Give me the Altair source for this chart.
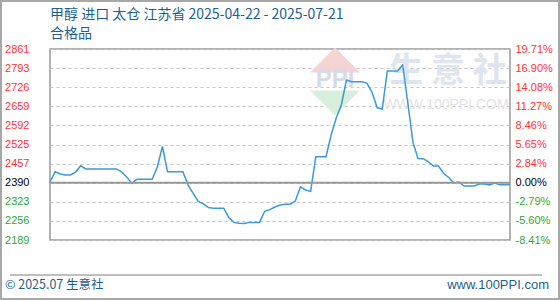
import altair as alt
import pandas as pd

# ---------------- data ----------------
x_labels = ["04/22", "04/30", "05/09", "05/18", "05/27", "06/05",
            "06/14", "06/23", "07/02", "07/11", "07/20"]
left_labels = ["2189", "2256", "2323", "2390", "2457", "2525",
               "2592", "2659", "2726", "2793", "2861"]
right_labels = ["-8.41%", "-5.60%", "-2.79%", "0.00%", "2.84%", "5.65%",
                "8.46%", "11.27%", "14.08%", "16.90%", "19.71%"]
prices = [2393, 2429, 2421, 2418, 2418, 2428, 2450, 2439, 2439, 2439,
          2439, 2439, 2439, 2439, 2429, 2411, 2388, 2403, 2403, 2403,
          2403, 2446, 2518, 2429, 2429, 2429, 2429, 2383, 2353, 2325,
          2316, 2303, 2301, 2301, 2301, 2267, 2251, 2248, 2247, 2251,
          2251, 2251, 2290, 2296, 2305, 2312, 2315, 2315, 2326, 2376,
          2365, 2360, 2482, 2482, 2482, 2558, 2618, 2664, 2752, 2746,
          2746, 2746, 2741, 2709, 2655, 2649, 2784, 2784, 2784, 2805,
          2672, 2534, 2476, 2475, 2465, 2449, 2449, 2424, 2409, 2390,
          2393, 2379, 2379, 2379, 2386, 2386, 2383, 2389, 2383, 2383,
          2383]

y_min, y_max = 2189, 2861
n_ticks = len(left_labels)
step = (y_max - y_min) / (n_ticks - 1)
tick_vals = [y_min + k * step for k in range(n_ticks)]
base_val = tick_vals[3]
x_ticks = [k * 9 for k in range(len(x_labels))]

df = pd.DataFrame({"i": list(range(len(prices))), "price": prices})
base_df = pd.DataFrame({"v": [base_val]})

W, H = 460, 191
FONT = "Liberation Sans"
CJK = "Noto Sans CJK SC"
BLUE_TXT = "#1d5f8f"

yscale = alt.Scale(domain=[y_min, y_max], nice=False, zero=False)
xscale = alt.Scale(domain=[0, 90], nice=False, zero=False)

left_expr = "[" + ",".join(f"'{s}'" for s in left_labels) + "][round((datum.value-%g)/%g)]" % (y_min, step)
right_expr = "[" + ",".join(f"'{s}'" for s in right_labels) + "][round((datum.value-%g)/%g)]" % (y_min, step)
x_expr = "[" + ",".join(f"'{s}'" for s in x_labels) + "][round(datum.value/9)]"
idx_expr = "round((datum.value-%g)/%g)" % (y_min, step)

label_color = {
    "condition": [
        {"test": idx_expr + " > 3", "value": "#ff3333"},
        {"test": idx_expr + " < 3", "value": "#33a833"},
    ],
    "value": "#000000",
}

# ---------- watermark ----------
wm_text = alt.Chart(pd.DataFrame({"t": ["生 意 社"]})).mark_text(
    font=CJK, fontSize=34, fontWeight="bold", color="#dfe5ef", align="center", baseline="middle"
).encode(x=alt.value(398), y=alt.value(23), text="t:N")
wm_url = alt.Chart(pd.DataFrame({"t": ["WWW.100PPI.COM"]})).mark_text(
    font=FONT, fontSize=14, color="#e4e4e4", align="center", baseline="middle"
).encode(x=alt.value(396), y=alt.value(56), text="t:N")
wm_ppi = alt.Chart(pd.DataFrame({"t": ["PPI"]})).mark_text(
    font=FONT, fontSize=24, fontWeight="bold", color="#d3dcec", align="center", baseline="middle"
).encode(x=alt.value(285), y=alt.value(31), text="t:N")
wm_red = alt.Chart(pd.DataFrame({"a": [1]})).mark_point(
    shape="M-1,0.5L0,-0.5L1,0.5Z", filled=True, color="#f6d3d3", opacity=1, size=2500
).encode(x=alt.value(285), y=alt.value(11))
wm_green = alt.Chart(pd.DataFrame({"a": [1]})).mark_point(
    shape="M-1,-0.5L1,-0.5L0,0.5Z", filled=True, color="#d8efdc", opacity=1, size=2500
).encode(x=alt.value(285), y=alt.value(54))

# ---------- main line with left axis & grid ----------
line = alt.Chart(df).mark_line(color="#3a9ad9", strokeWidth=1.5).encode(
    x=alt.X("i:Q", scale=xscale, title=None,
            axis=alt.Axis(values=x_ticks, labelExpr=x_expr, grid=True,
                          gridColor="#c8c8c8", gridDash=[3, 3], ticks=False,
                          domain=False, labelColor=BLUE_TXT, labelFont=FONT,
                          labelFontSize=11, labelPadding=11, labelFlush=False)),
    y=alt.Y("price:Q", scale=yscale, title=None,
            axis=alt.Axis(orient="left", values=tick_vals, labelExpr=left_expr,
                          grid=True, gridColor="#c8c8c8", gridDash=[3, 3],
                          ticks=False, domain=False, labelColor=label_color,
                          labelFont=FONT, labelFontSize=11, labelPadding=21)),
)

# right axis (percent)
right = alt.Chart(df).mark_line(opacity=0).encode(
    x=alt.X("i:Q", scale=xscale, axis=None),
    y=alt.Y("price:Q", scale=yscale, title=None,
            axis=alt.Axis(orient="right", values=tick_vals, labelExpr=right_expr,
                          grid=False, ticks=False, domain=False,
                          labelColor=label_color, labelFont=FONT,
                          labelFontSize=11, labelPadding=5)),
)

base_rule = alt.Chart(base_df).mark_rule(color="#999999", strokeWidth=2).encode(
    y=alt.Y("v:Q", scale=yscale, axis=None)
)

# ---------- titles / footer ----------
title1 = alt.Chart(pd.DataFrame({"t": ["甲醇 进口 太仓 江苏省 2025-04-22 - 2025-07-21"]})).mark_text(
    font=CJK, fontSize=14, color=BLUE_TXT, align="left", baseline="middle"
).encode(x=alt.value(0), y=alt.value(-34), text="t:N")
title2 = alt.Chart(pd.DataFrame({"t": ["合格品"]})).mark_text(
    font=CJK, fontSize=14, color=BLUE_TXT, align="left", baseline="middle"
).encode(x=alt.value(0), y=alt.value(-15), text="t:N")
foot_l = alt.Chart(pd.DataFrame({"t": ["© 2025.07 生意社"]})).mark_text(
    font=CJK, fontSize=12.5, color=BLUE_TXT, align="left", baseline="middle"
).encode(x=alt.value(-45), y=alt.value(236), text="t:N")
foot_r = alt.Chart(pd.DataFrame({"t": ["www.100PPI.com"]})).mark_text(
    font=FONT, fontSize=13, color=BLUE_TXT, align="right", baseline="middle"
).encode(x=alt.value(499), y=alt.value(236), text="t:N")
foot_line = alt.Chart(pd.DataFrame({"a": [1]})).mark_rule(color="#aaaaaa", strokeWidth=1.5).encode(
    x=alt.value(-40), x2=alt.value(492), y=alt.value(226)
)
frame = alt.Chart(pd.DataFrame({"a": [1]})).mark_rect(
    fillOpacity=0, stroke="#a8a8a8", strokeWidth=2
).encode(x=alt.value(-49), x2=alt.value(509), y=alt.value(-48), y2=alt.value(250))

chart = alt.layer(
    wm_red, wm_green, wm_ppi, wm_text, wm_url,
    line, right, base_rule,
    title1, title2, foot_l, foot_r, foot_line, frame,
).resolve_scale(y="independent").resolve_axis(y="independent").properties(
    width=W, height=H, autosize="none",
    padding={"left": 50, "top": 49, "right": 50, "bottom": 60},
    background="white",
).configure_view(stroke="#9a9a9a", strokeWidth=1.5)

chart.save("out.html", embed_options={"renderer": "svg", "actions": False})
